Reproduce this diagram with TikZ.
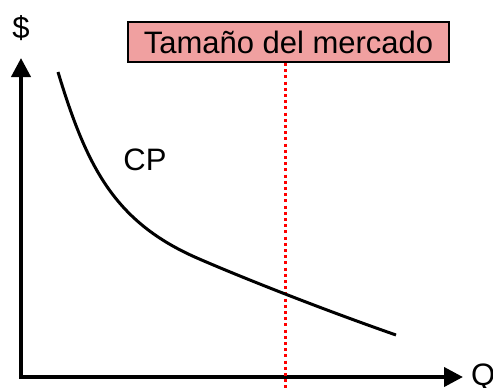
\documentclass[tikz,border=0pt]{standalone}
\usepackage{fontspec}
\setmainfont{Liberation Sans}
\usetikzlibrary{arrows.meta}
\definecolor{boxpink}{HTML}{F0A0A0}
\begin{document}
\begin{tikzpicture}[x=1pt,y=-1pt,
  axis/.style={line width=4pt,-{Triangle[length=19pt,width=19pt]}},
  lbl/.style={font=\fontsize{31}{36}\selectfont,inner sep=0pt},
  curve/.style={line width=3pt},
  market/.style={red,line width=3pt,dash pattern=on 3pt off 3.2pt}]
\useasboundingbox (0,0) rectangle (493,388);
\coordinate (O) at (21,377);
\coordinate (ytop) at (21,58);
\coordinate (xend) at (463,377);
\draw[axis] (O) -- (ytop);
\draw[axis] ([xshift=-2pt]O) -- (xend);
\node[lbl,anchor=center] (dollar) at (21,28) {\$};
\node[lbl,anchor=west] (q) at (471,378) {Q};
\node[lbl,draw=black,line width=2pt,fill=boxpink,minimum width=321pt,minimum height=40pt] (box) at (288.5,42) {Tamaño del mercado};
\coordinate (mb) at (285,388);
\draw[market] (box.south -| mb) -- (mb);
\node[lbl] (cp) at (145,160) {CP};
\coordinate (c0) at (58,72);
\coordinate (c1) at (197,258);
\coordinate (c2) at (396,335);
\draw[curve] (c0) .. controls (87,168) and (115,222) .. (c1)
  .. controls (250,281) and (330,312) .. (c2);
\end{tikzpicture}
\end{document}
